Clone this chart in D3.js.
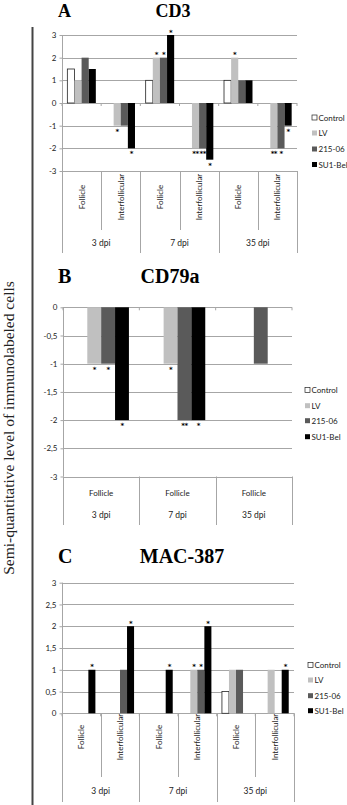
<!DOCTYPE html>
<html>
<head>
<meta charset="utf-8">
<script src="https://cdn.jsdelivr.net/npm/d3@7"></script>
<style>
  body { margin: 0; background: #fff; }
  svg { display: block; }
</style>
</head>
<body>
<div id="chart"></div>
<script>
// series / legend
const seriesNames = ["Control", "LV", "215-06", "SU1-Bel"]
const seriesColors = ["#ffffff", "#c0c0c0", "#5a5a5a", "#000000"]
const dpiGroups = ["3 dpi", "7 dpi", "35 dpi"]

// A: CD3
const cd3Sites = ["Follicle", "Interfollicular"]
const cd3Values = [
  [1.5, 1, 2, 1.5],
  [0, -1, -1, -2],
  [1, 2, 2, 3],
  [0, -2, -2, -2.5],
  [1, 2, 1, 1],
  [0, -2, -2, -1]
]
const cd3Stars = [
  ["", "", "", ""],
  ["", "*", "", "*"],
  ["", "*", "*", "*"],
  ["", "**", "**", "*"],
  ["", "*", "", ""],
  ["", "**", "*", "*"]
]
const cd3Ticks = [3, 2, 1, 0, -1, -2, -3]

// B: CD79a
const cd79aSites = ["Follicle"]
const cd79aValues = [
  [0, -1, -1, -2],
  [0, -1, -2, -2],
  [0, 0, -1, 0]
]
const cd79aStars = [
  ["", "*", "*", "*"],
  ["", "*", "**", "*"],
  ["", "", "", ""]
]
const cd79aTicks = [0, -0.5, -1, -1.5, -2, -2.5, -3]

// C: MAC-387
const macSites = ["Follicle", "Interfollicular"]
const macValues = [
  [0, 0, 0, 1],
  [0, 0, 1, 2],
  [0, 0, 0, 1],
  [0, 1, 1, 2],
  [0.5, 1, 1, 0],
  [0, 1, 0, 1]
]
const macStars = [
  ["", "", "", "*"],
  ["", "", "", "*"],
  ["", "", "", "*"],
  ["", "*", "*", "*"],
  ["", "", "", ""],
  ["", "", "", "*"]
]
const macTicks = [3, 2.5, 2, 1.5, 1, 0.5, 0]

const W = 347, H = 805
const sansFont = "Lato, 'Open Sans', sans-serif"
const serifFont = "'Liberation Serif', 'DejaVu Serif', serif"
const gridColor = "#a6a6a6"

const svg = d3.select("#chart").append("svg")
  .attr("width", W)
  .attr("height", H)

const fmt = v => String(v).replace(".", ",")

// 画一个面板
const drawPanel = (cfg) => {
  const g = svg.append("g")

  // 类别 = 时间 x 部位
  const cats = []
  cfg.groups.forEach(gr => cfg.sites.forEach(s => cats.push({ group: gr, site: s })))

  const x0 = d3.scaleBand()
    .domain(d3.range(cats.length))
    .range([cfg.left, cfg.right])
    .padding(0)

  const x1 = d3.scaleBand()
    .domain(d3.range(seriesNames.length))
    .range([0, x0.bandwidth()])
    .paddingInner(0)
    .paddingOuter(0.75)

  const y = d3.scaleLinear()
    .domain(cfg.domain)
    .range([cfg.yBottom, cfg.yTop])

  const yMin = d3.min(cfg.domain)

  // 网格线
  g.append("g")
    .selectAll("line")
    .data(cfg.ticks)
    .enter()
    .append("line")
    .attr("x1", cfg.left)
    .attr("x2", cfg.right)
    .attr("y1", d => Math.round(y(d)) + 0.5)
    .attr("y2", d => Math.round(y(d)) + 0.5)
    .attr("stroke", gridColor)
    .attr("stroke-width", 1)

  // y 轴
  const yAxis = d3.axisLeft(y)
    .tickValues(cfg.ticks)
    .tickSize(3)
    .tickPadding(3)
    .tickFormat(fmt)

  const ax = g.append("g")
    .attr("transform", `translate(${Math.round(cfg.left) + 0.5},0)`)
    .call(yAxis)
  ax.select(".domain").attr("stroke", gridColor).attr("d", `M0,${y(d3.max(cfg.domain))}V${y(yMin)}`)
  ax.selectAll(".tick line").attr("stroke", gridColor)
  ax.selectAll(".tick text")
    .style("font-family", sansFont)
    .style("font-size", "8px")
    .attr("fill", "#222")

  // 柱子
  const bars = []
  cfg.values.forEach((row, ci) => row.forEach((v, si) => {
    bars.push({ ci, si, v, star: cfg.stars[ci][si] })
  }))

  g.append("g")
    .selectAll("rect")
    .data(bars.filter(d => d.v !== 0))
    .enter()
    .append("rect")
    .attr("x", d => x0(d.ci) + x1(d.si))
    .attr("width", x1.bandwidth())
    .attr("y", d => Math.min(y(d.v), y(0)))
    .attr("height", d => Math.abs(y(d.v) - y(0)))
    .attr("fill", d => seriesColors[d.si])
    .attr("stroke", d => d.si === 0 ? "#222" : "none")
    .attr("stroke-width", 0.8)

  // 显著性标记
  g.append("g")
    .selectAll("text")
    .data(bars.filter(d => d.star !== ""))
    .enter()
    .append("text")
    .attr("x", d => x0(d.ci) + x1(d.si) + x1.bandwidth() / 2)
    .attr("y", d => d.v >= 0 ? y(d.v) - 0.5 : y(d.v) + 8)
    .attr("text-anchor", "middle")
    .style("font-family", "'DejaVu Sans', sans-serif")
    .style("font-size", "7px")
    .style("font-weight", "bold")
    .style("letter-spacing", "-0.5px")
    .attr("fill", "#000")
    .text(d => d.star)

  // 零线上的小刻度
  g.append("g")
    .selectAll("line")
    .data(d3.range(cats.length + 1))
    .enter()
    .append("line")
    .attr("x1", i => i < cats.length ? x0(i) : cfg.right)
    .attr("x2", i => i < cats.length ? x0(i) : cfg.right)
    .attr("y1", y(0))
    .attr("y2", y(0) + 3)
    .attr("stroke", gridColor)

  // 类别轴分隔线
  const labTop = y(yMin)
  const nSites = cfg.sites.length
  g.append("g")
    .selectAll("line")
    .data(d3.range(cats.length + 1))
    .enter()
    .append("line")
    .attr("x1", i => Math.round(i < cats.length ? x0(i) : cfg.right) + 0.5)
    .attr("x2", i => Math.round(i < cats.length ? x0(i) : cfg.right) + 0.5)
    .attr("y1", labTop)
    .attr("y2", i => i % nSites === 0 ? cfg.longEnd : cfg.shortEnd)
    .attr("stroke", gridColor)

  // 部位标签
  const siteText = g.append("g")
    .selectAll("text")
    .data(cats)
    .enter()
    .append("text")
    .style("font-family", sansFont)
    .style("font-size", "8px")
    .attr("fill", "#222")
    .text(d => d.site)

  if (cfg.rotate) {
    siteText
      .attr("text-anchor", "middle")
      .attr("transform", (d, i) => `translate(${x0(i) + x0.bandwidth() / 2 + 3},${cfg.siteY}) rotate(-90)`)
  } else {
    siteText
      .attr("text-anchor", "middle")
      .attr("x", (d, i) => x0(i) + x0.bandwidth() / 2)
      .attr("y", cfg.siteY + 3)
  }

  // 时间标签
  const groupW = (cfg.right - cfg.left) / cfg.groups.length
  g.append("g")
    .selectAll("text")
    .data(cfg.groups)
    .enter()
    .append("text")
    .attr("x", (d, i) => cfg.left + groupW * (i + 0.5))
    .attr("y", cfg.groupY + 3)
    .attr("text-anchor", "middle")
    .style("font-family", sansFont)
    .style("font-size", "8.5px")
    .attr("fill", "#222")
    .text(d => d)

  // 图例
  const leg = g.append("g")
    .selectAll("g")
    .data(seriesNames)
    .enter()
    .append("g")
    .attr("transform", (d, i) => `translate(${cfg.legX},${cfg.legY[i]})`)
  leg.append("rect")
    .attr("x", 0)
    .attr("y", -2.5)
    .attr("width", 5)
    .attr("height", 5)
    .attr("fill", (d, i) => seriesColors[i])
    .attr("stroke", (d, i) => i === 0 ? "#222" : "none")
    .attr("stroke-width", 0.7)
  leg.append("text")
    .attr("x", 6.5)
    .attr("y", 3)
    .style("font-family", sansFont)
    .style("font-size", "8px")
    .attr("fill", "#222")
    .text(d => d)

  // 标题
  g.append("text")
    .attr("x", 58)
    .attr("y", cfg.titleY)
    .style("font-family", serifFont)
    .style("font-weight", "bold")
    .style("font-size", cfg.titleSize)
    .text(cfg.letter)
  g.append("text")
    .attr("x", cfg.titleX)
    .attr("y", cfg.titleY)
    .attr("text-anchor", "middle")
    .style("font-family", serifFont)
    .style("font-weight", "bold")
    .style("font-size", cfg.titleSize)
    .text(cfg.title)
}

drawPanel({
  letter: "A", title: "CD3", titleX: 173, titleY: 17, titleSize: "18px",
  groups: dpiGroups, sites: cd3Sites, values: cd3Values, stars: cd3Stars,
  ticks: cd3Ticks, domain: [-3, 3],
  left: 62, right: 297, yTop: 35, yBottom: 171,
  longEnd: 253, shortEnd: 230, rotate: true, siteY: 197, groupY: 243,
  legX: 312, legY: [117.5, 133, 149, 164.5]
})

drawPanel({
  letter: "B", title: "CD79a", titleX: 170, titleY: 283, titleSize: "20px",
  groups: dpiGroups, sites: cd79aSites, values: cd79aValues, stars: cd79aStars,
  ticks: cd79aTicks, domain: [-3, 0],
  left: 63, right: 292, yTop: 307.3, yBottom: 476.5,
  longEnd: 525, shortEnd: 525, rotate: false, siteY: 493, groupY: 515,
  legX: 305, legY: [390, 405.7, 420.7, 436.7]
})

drawPanel({
  letter: "C", title: "MAC-387", titleX: 182, titleY: 563, titleSize: "20px",
  groups: dpiGroups, sites: macSites, values: macValues, stars: macStars,
  ticks: macTicks, domain: [0, 3],
  left: 62, right: 294, yTop: 582.7, yBottom: 713.3,
  longEnd: 802, shortEnd: 777, rotate: true, siteY: 737, groupY: 791,
  legX: 308, legY: [665, 680, 695.7, 710.7]
})

// 左侧竖线和共享的 y 轴标题
svg.append("line")
  .attr("x1", 32.5)
  .attr("x2", 32.5)
  .attr("y1", 27)
  .attr("y2", 805)
  .attr("stroke", "#444")
  .attr("stroke-width", 2)

svg.append("text")
  .attr("transform", "translate(14,428) rotate(-90)")
  .attr("text-anchor", "middle")
  .style("font-family", serifFont)
  .style("font-size", "15.5px")
  .attr("fill", "#222")
  .text("Semi-quantitative level of immunolabeled cells")
</script>
</body>
</html>
